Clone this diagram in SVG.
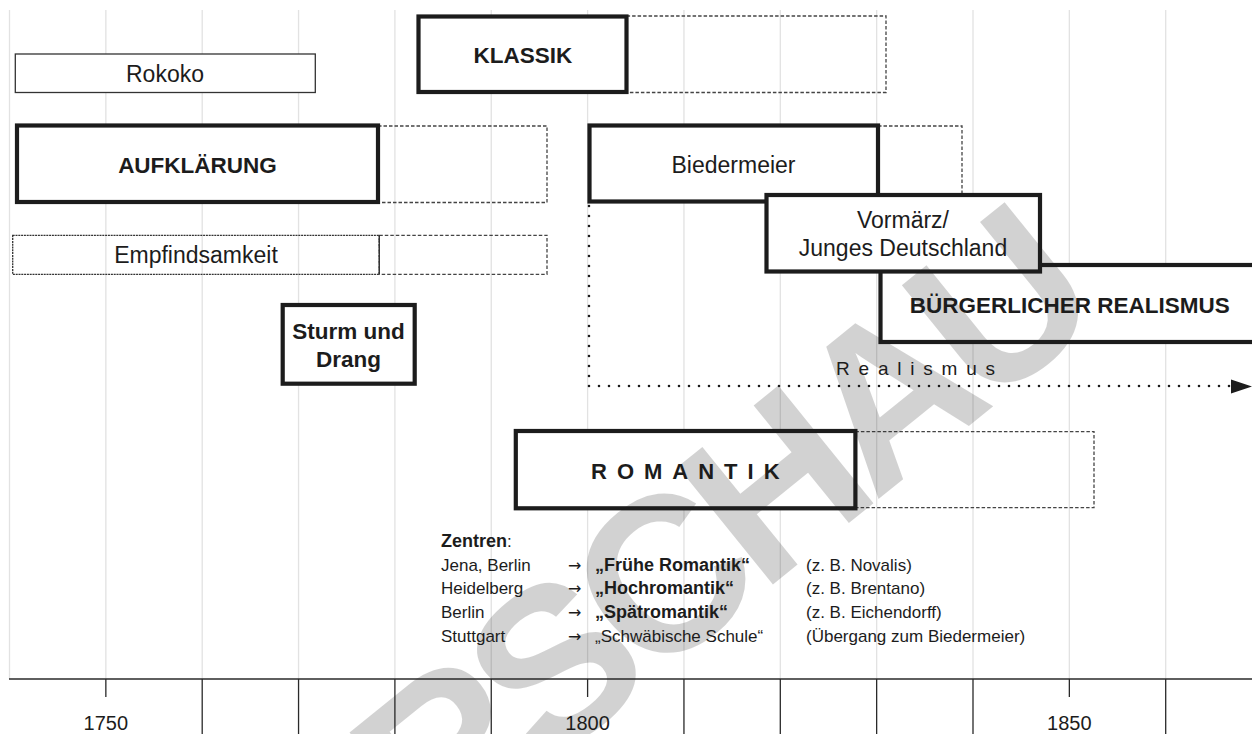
<svg xmlns="http://www.w3.org/2000/svg" width="1252" height="734" viewBox="0 0 1252 734">
<defs>
<style>
.grid{stroke:#e2e2e2;stroke-width:1.3;fill:none}
.thick{stroke:#1c1c1c;stroke-width:4.2;fill:#fff}
.thin{stroke:#333;stroke-width:1.3;fill:#fff}
.ext{stroke:#444;stroke-width:1.3;fill:none;stroke-dasharray:3.5 2}
.fine{stroke:#333;stroke-width:1.3;fill:none;stroke-dasharray:2 0.8}
.dots{stroke:#1c1c1c;stroke-width:2.6;fill:none;stroke-dasharray:0 10;stroke-linecap:round}
.axis{stroke:#2a2a2a;stroke-width:1.5;fill:none}
.tick{stroke:#2a2a2a;stroke-width:1.3;fill:none}
text{font-family:"Liberation Sans",Arial,sans-serif;fill:#1c1c1c}
.lbl{font-size:23px;text-anchor:middle}
.hd{font-size:22.5px;font-weight:bold;text-anchor:middle}
.z{font-size:17px}
.zb{font-size:18px;font-weight:bold}
.ar{font-family:"DejaVu Sans",sans-serif;font-size:16px}
.yr{font-size:20px;text-anchor:middle}
</style>
</defs>
<rect width="1252" height="734" fill="#fff"/>
<g id="grid">
<path class="grid" d="M9.5 10V679M105.85 10V679M202.2 10V679M298.55 10V679M394.9 10V679M491.25 10V679M587.6 10V679M683.95 10V679M780.3 10V679M876.65 10V679M973 10V679M1069.35 10V679M1165.7 10V679"/>
</g>
<g id="rokoko">
<rect class="thin" x="15.3" y="54" width="300" height="38.5"/>
<text class="lbl" x="165" y="82">Rokoko</text>
</g>
<g id="klassik">
<rect class="ext" x="626.6" y="16" width="259.4" height="76.5"/>
<rect class="thick" x="418.5" y="16.5" width="208" height="75.5"/>
<text class="hd" x="523" y="63">KLASSIK</text>
</g>
<g id="aufklaerung">
<rect class="ext" x="378" y="126" width="169" height="76.5"/>
<rect class="thick" x="17" y="125.5" width="361" height="76.5"/>
<text class="hd" x="197.5" y="173" font-size="23">AUFKLÄRUNG</text>
</g>
<g id="empfindsamkeit">
<rect class="ext" x="379.3" y="235.3" width="167.7" height="39"/>
<rect class="fine" x="12.7" y="235.3" width="366.6" height="39"/>
<line x1="379.3" y1="235.3" x2="379.3" y2="274.3" stroke="#333" stroke-width="1.3"/>
<text class="lbl" x="196" y="263">Empfindsamkeit</text>
</g>
<g id="sturm">
<rect class="thick" x="282.7" y="305" width="132" height="78.7"/>
<text class="hd" x="348.5" y="339" font-size="21">Sturm und</text>
<text class="hd" x="348.5" y="366.5" font-size="21">Drang</text>
</g>
<g id="biedermeier">
<rect class="ext" x="878" y="126" width="84" height="76"/>
<rect class="thick" x="589.5" y="125.5" width="288.5" height="76"/>
<text class="lbl" x="733.5" y="172.7">Biedermeier</text>
</g>
<g id="realismus-buergerlich">
<rect class="thick" x="880.5" y="265" width="380" height="77"/>
<text class="hd" x="1069.7" y="312.7">BÜRGERLICHER REALISMUS</text>
</g>
<g id="vormaerz">
<rect class="thick" x="766.5" y="195" width="273.5" height="76.5"/>
<text class="lbl" x="903" y="228">Vormärz/</text>
<text class="lbl" x="903" y="256">Junges Deutschland</text>
</g>
<g id="romantik">
<rect class="ext" x="855.4" y="431.7" width="238.6" height="76"/>
<rect class="thick" x="515.8" y="431" width="339.6" height="77.3"/>
<text x="591" y="479" font-size="22" font-weight="bold" letter-spacing="10">ROMANTIK</text>
</g>
<g id="connectors">
<path class="dots" d="M589 206V386H1230"/>
<polygon points="1231,379.5 1252,386.5 1231,393.5" fill="#1c1c1c"/>
<text x="836" y="375" font-size="19" letter-spacing="8.8">Realismus</text>
</g>
<g id="zentren">
<text x="441" y="547"><tspan class="zb">Zentren</tspan><tspan class="z">:</tspan></text>
<text class="z" x="441" y="570.7">Jena, Berlin</text>
<text class="ar" x="568" y="570.7">→</text>
<text class="zb" x="595" y="570.7">„Frühe Romantik“</text>
<text class="z" x="806" y="570.7">(z. B. Novalis)</text>
<text class="z" x="441" y="594.3">Heidelberg</text>
<text class="ar" x="568" y="594.3">→</text>
<text class="zb" x="595" y="594.3">„Hochromantik“</text>
<text class="z" x="806" y="594.3">(z. B. Brentano)</text>
<text class="z" x="441" y="618">Berlin</text>
<text class="ar" x="568" y="618">→</text>
<text class="zb" x="595" y="618">„Spätromantik“</text>
<text class="z" x="806" y="618">(z. B. Eichendorff)</text>
<text class="z" x="441" y="641.7">Stuttgart</text>
<text class="ar" x="568" y="641.7">→</text>
<text class="z" x="595" y="641.7">„Schwäbische Schule“</text>
<text class="z" x="806" y="641.7">(Übergang zum Biedermeier)</text>
</g>
<g id="axis">
<path class="axis" d="M9 679H1252"/>
<path class="tick" d="M105.85 679V697M587.6 679V697M1069.35 679V697M202.2 679V734M298.55 679V734M394.9 679V734M491.25 679V734M683.95 679V734M780.3 679V734M876.65 679V734M973 679V734M1165.7 679V734"/>
<text class="yr" x="105.85" y="730">1750</text>
<text class="yr" x="587.6" y="730">1800</text>
<text class="yr" x="1069.35" y="730">1850</text>
</g>
<g id="watermark">
<text x="208" y="1042" font-size="220" font-weight="bold" letter-spacing="-14" fill="#000" fill-opacity="0.2" transform="rotate(-39 208 1042)">VORSCHAU</text>
</g>
</svg>
